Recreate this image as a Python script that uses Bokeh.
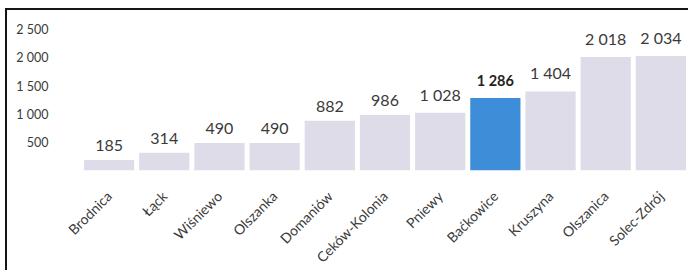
from bokeh.plotting import figure
from bokeh.models import ColumnDataSource, FixedTicker, LabelSet
from bokeh.core.properties import value, field
from bokeh.embed import file_html
from bokeh.resources import INLINE
import math

categories = ["Brodnica", "Łąck", "Wiśniewo", "Olszanka", "Domaniów", "Ceków-Kolonia",
              "Pniewy", "Baćkowice", "Kruszyna", "Olszanica", "Solec-Zdrój"]
values = [185, 314, 490, 490, 882, 986, 1028, 1286, 1404, 2018, 2034]
highlight = "Baćkowice"
y_ticks = [500, 1000, 1500, 2000, 2500]
y_tick_labels = ["500", "1 000", "1 500", "2 000", "2 500"]

def fmt(v):
    return f"{v:,}".replace(",", " ")

colors = ["#3d8dd8" if c == highlight else "#dddce8" for c in categories]
fstyle = ["bold" if c == highlight else "normal" for c in categories]
tsize = ["14.5px" if c == highlight else "16px" for c in categories]
tcolor = ["#222222" if c == highlight else "#3a3a3a" for c in categories]
src = ColumnDataSource(dict(cat=categories, val=values, color=colors,
                            lab=[fmt(v) for v in values], fstyle=fstyle,
                            tsize=tsize, tcolor=tcolor))

p = figure(x_range=categories, y_range=(0, 2700), frame_width=607, frame_height=152,
           output_backend="svg", toolbar_location=None,
           min_border_left=74, min_border_right=0, min_border_top=8, min_border_bottom=88)
p.styles = {"border-left": "2px solid #151515", "border-top": "2px solid #151515",
            "margin-left": "5px", "margin-top": "8px"}
p.outline_line_color = None
p.background_fill_color = "white"
p.border_fill_color = "white"
p.grid.grid_line_color = None

p.vbar(x="cat", top="val", width=0.91, source=src, fill_color="color", line_color=None)

labels = LabelSet(x="cat", y="val", text="lab", source=src, y_offset=9,
                  text_align="center", text_baseline="bottom",
                  text_font=value("Lato"), text_font_size=field("tsize"),
                  text_font_style=field("fstyle"), text_color=field("tcolor"))
p.add_layout(labels)

yax = p.yaxis[0]
yax.ticker = FixedTicker(ticks=y_ticks)
yax.major_label_overrides = {t: l for t, l in zip(y_ticks, y_tick_labels)}
yax.axis_line_color = None
yax.major_tick_line_color = None
yax.minor_tick_line_color = None
yax.major_tick_out = 0
yax.major_tick_in = 0
yax.major_label_standoff = 33
yax.major_label_text_font = "Lato"
yax.major_label_text_font_size = "12.5px"
yax.major_label_text_color = "#3a3a3a"

xax = p.xaxis[0]
xax.axis_line_color = None
xax.major_tick_line_color = None
xax.major_tick_out = 0
xax.major_tick_in = 0
xax.major_label_orientation = math.pi / 4
xax.major_label_standoff = 23
xax.major_label_text_font = "Lato"
xax.major_label_text_font_size = "14px"
xax.major_label_text_color = "#3a3a3a"

open("out.html", "w").write(file_html(p, INLINE))
